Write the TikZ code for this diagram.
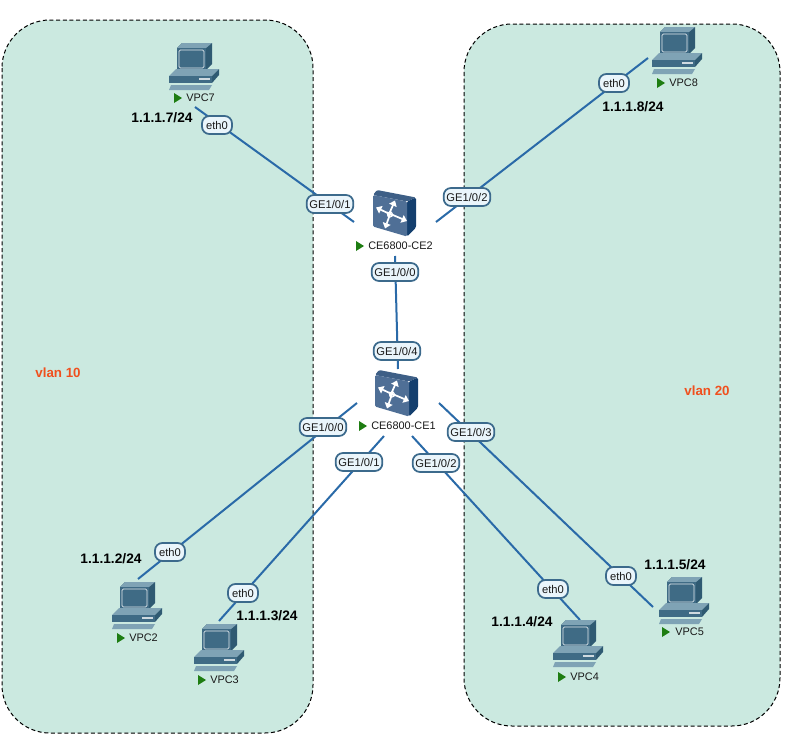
\documentclass[tikz,border=0pt]{standalone}
\usepackage{fontspec}
\setmainfont{Liberation Sans}
\usetikzlibrary{arrows.meta}
\definecolor{zonefill}{HTML}{CBE9E0}
\definecolor{linkcol}{HTML}{2A6AA8}
\definecolor{tagline}{HTML}{3C6A8C}
\definecolor{tagfill}{HTML}{EAF5FB}
\definecolor{pcbody}{HTML}{3F6B85}
\definecolor{pcdark}{HTML}{2F5A72}
\definecolor{pclight}{HTML}{7FA3B5}
\definecolor{swfront}{HTML}{4F6F96}
\definecolor{swtop}{HTML}{3E5F86}
\definecolor{swside}{HTML}{143F6E}
\definecolor{runcol}{HTML}{1E7D12}
\definecolor{vlancol}{HTML}{F0501E}
\tikzset{
  x=0.75pt,y=-0.75pt,
  zone/.style={draw=black,fill=zonefill,dash pattern=on 3pt off 2pt,line width=0.75pt,rounded corners=36pt},
  link/.style={draw=linkcol,line width=1.5pt},
  tag/.style={draw=tagline,fill=tagfill,line width=1.3pt,rounded corners=5.5pt,font=\fontsize{8.4}{10}\selectfont,text=black!90,inner sep=0pt,minimum height=13.5pt},
  gepill/.style={tag,minimum width=35pt},
  ethpill/.style={tag,minimum width=22.5pt},
  ipaddr/.style={font=\fontsize{10.3}{12}\selectfont\bfseries,text=black,inner sep=0pt},
  devname/.style={font=\fontsize{8.2}{10}\selectfont,text=black!90,inner sep=0pt},
  vlanname/.style={font=\fontsize{10}{12}\selectfont\bfseries,text=vlancol,inner sep=0pt},
  pcnode/.style={inner sep=0pt,minimum width=38pt,minimum height=34pt},
  swnode/.style={inner sep=0pt,minimum width=33pt,minimum height=35pt},
  swarrow/.style={draw=white,line width=1.3pt,-{Triangle[width=6pt,length=4pt,fill=white]}},
  runmark/.pic={\fill[runcol] (-4,-5) -- (4,0) -- (-4,5) -- cycle;},
  pcicon/.pic={
    \fill[pcdark] (-12,-23) -- (18,-23) -- (18,-2) -- (12,4) -- (-17,4) -- (-17,-18) -- cycle;
    \fill[pclight] (-17,-18) -- (-12,-23) -- (18,-23) -- (12,-18) -- cycle;
    \fill[pcbody] (-17,-18) rectangle (12,4);
    \draw[white!85!pcbody,line width=0.6pt,rounded corners=1pt,fill=pcbody] (-15,-16) rectangle (10,2);
    \fill[pclight] (-25,10) -- (-18,3) -- (25,3) -- (18,10) -- cycle;
    \fill[pcbody] (-25,10) rectangle (18,17);
    \fill[pcdark] (18,10) -- (25,3) -- (25,9) -- (18,17) -- cycle;
    \fill[white!75!pcbody] (5,12) rectangle (16,14);
    \fill[pclight] (-23,19) -- (18,19) -- (15,24) -- (-25,24) -- cycle;
  },
  swicon/.pic={
    \fill[swtop,rounded corners=1pt] (-22,-19.5) -- (-18,-24.5) -- (21,-17) -- (12,-13) -- cycle;
    \fill[swside,rounded corners=1pt] (12,-13) -- (21,-17) -- (21,13) -- (12,22) -- cycle;
    \fill[swfront,rounded corners=1pt] (-22,-19.5) -- (12,-13) -- (12,22) -- (-22,12) -- cycle;
    \draw[swarrow] (-7,2) -- (0,-14);
    \draw[swarrow] (-8,-2) -- (12,6.5);
    \draw[swarrow] (-4,-3) -- (-10,14);
    \draw[swarrow] (-2,1) -- (-19,-7);
    \draw[white,line width=0.8pt] (-5,0) circle (2.5);
  }
}
\begin{document}
\begin{tikzpicture}
\useasboundingbox (0,0) rectangle (786,736);
% zones
\path[zone] (2,20) rectangle (313,733);
\path[zone] (464,24) rectangle (780,726);
% devices
\node[swnode] (ce2) at (395,214.5) {};
\node[swnode] (ce1) at (397,394.5) {};
\node[pcnode] (vpc7) at (194,66) {};
\node[pcnode] (vpc8) at (677,50) {};
\node[pcnode] (vpc2) at (137,605) {};
\node[pcnode] (vpc3) at (219,647) {};
\node[pcnode] (vpc4) at (578,643) {};
\node[pcnode] (vpc5) at (684,600) {};
% connectors
\draw[link] ([shift={(-41,7.5)}]ce2.center) -- ([shift={(1,41)}]vpc7.center);
\draw[link] ([shift={(41,7.5)}]ce2.center) -- ([shift={(-29,8)}]vpc8.center);
\draw[link] ([shift={(0,41.5)}]ce2.center) -- ([shift={(1,-25.5)}]ce1.center);
\draw[link] ([shift={(-40,8.5)}]ce1.center) -- ([shift={(1,-26)}]vpc2.center);
\draw[link] ([shift={(-13,41.5)}]ce1.center) -- ([shift={(0,-26)}]vpc3.center);
\draw[link] ([shift={(15,41.5)}]ce1.center) -- ([shift={(2,-23)}]vpc4.center);
\draw[link] ([shift={(42,8.5)}]ce1.center) -- ([shift={(-31,7)}]vpc5.center);
% icons
\pic at (ce2) {swicon};
\pic at (ce1) {swicon};
\pic at (vpc7) {pcicon};
\pic at (vpc8) {pcicon};
\pic at (vpc2) {pcicon};
\pic at (vpc3) {pcicon};
\pic at (vpc4) {pcicon};
\pic at (vpc5) {pcicon};
% status marks and device names
\pic at (360,246) {runmark};
\node[devname,anchor=west] (ce2name) at (368,246) {CE6800-CE2};
\pic at (363,426) {runmark};
\node[devname,anchor=west] (ce1name) at (371,426) {CE6800-CE1};
\pic at (178,98) {runmark};
\node[devname,anchor=west] (vpc7name) at (186,98) {VPC7};
\pic at (661,83) {runmark};
\node[devname,anchor=west] (vpc8name) at (669,83) {VPC8};
\pic at (121,638) {runmark};
\node[devname,anchor=west] (vpc2name) at (129,638) {VPC2};
\pic at (202,680) {runmark};
\node[devname,anchor=west] (vpc3name) at (210,680) {VPC3};
\pic at (562,677) {runmark};
\node[devname,anchor=west] (vpc4name) at (570,677) {VPC4};
\pic at (666,632) {runmark};
\node[devname,anchor=west] (vpc5name) at (675,632) {VPC5};
% interface tags
\node[gepill] (t1) at (330,204) {GE1/0/1};
\node[gepill] (t2) at (467,197) {GE1/0/2};
\node[gepill] (t3) at (395,272) {GE1/0/0};
\node[gepill] (t4) at (397,351) {GE1/0/4};
\node[gepill] (t5) at (323,427) {GE1/0/0};
\node[gepill] (t6) at (359,462) {GE1/0/1};
\node[gepill] (t7) at (436,463) {GE1/0/2};
\node[gepill] (t8) at (471,432) {GE1/0/3};
\node[ethpill] (e7) at (217,125) {eth0};
\node[ethpill] (e8) at (614,83) {eth0};
\node[ethpill] (e2) at (170,552) {eth0};
\node[ethpill] (e3) at (243,593) {eth0};
\node[ethpill] (e4) at (553,589) {eth0};
\node[ethpill] (e5) at (621,576) {eth0};
% addresses
\node[ipaddr] (ip7) at (162,118) {1.1.1.7/24};
\node[ipaddr] (ip8) at (633,107) {1.1.1.8/24};
\node[ipaddr] (ip2) at (111,559) {1.1.1.2/24};
\node[ipaddr] (ip3) at (267,616) {1.1.1.3/24};
\node[ipaddr] (ip4) at (522,622) {1.1.1.4/24};
\node[ipaddr] (ip5) at (675,565) {1.1.1.5/24};
% vlan names
\node[vlanname] (v10) at (58,373) {vlan 10};
\node[vlanname] (v20) at (707,391) {vlan 20};
\end{tikzpicture}
\end{document}
